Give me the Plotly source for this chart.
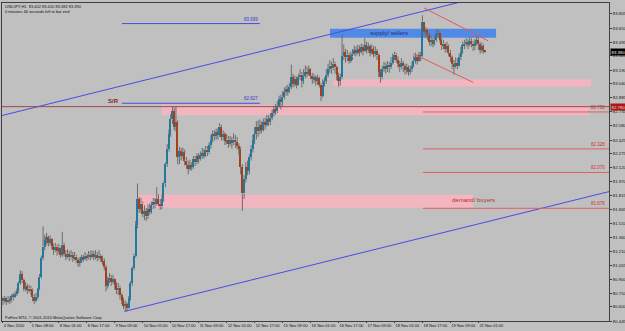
import plotly.graph_objects as go

# ---------------- data (USDJPY H1) ----------------
first_open = 80.70
closes = [
80.66, 80.70, 80.65, 80.68, 80.67, 80.72, 80.71, 80.74, 80.77, 80.86,
80.96, 80.89, 80.80, 80.83, 80.78, 80.80, 80.77, 80.71, 80.66, 80.71,
80.79, 80.93, 81.13, 81.26, 81.33, 81.36, 81.30, 81.34, 81.27, 81.22,
81.26, 81.21, 81.24, 81.17, 81.28, 81.18, 81.15, 81.18, 81.14, 81.17,
81.13, 81.15, 81.11, 81.08, 81.10, 81.14, 81.12, 81.16, 81.14, 81.17,
81.15, 81.18, 81.15, 81.17, 81.13, 81.16, 81.12, 81.10, 81.04, 80.83,
80.89, 80.92, 80.87, 80.90, 80.84, 80.78, 80.81, 80.73, 80.66, 80.61,
80.63, 80.59, 80.70, 80.86, 81.02, 81.16, 81.49, 81.78, 81.67, 81.73,
81.62, 81.65, 81.59, 81.67, 81.64, 81.71, 81.75, 81.73, 81.78, 81.73,
81.70, 81.78, 81.95, 82.16, 82.33, 82.49, 82.65, 82.74, 82.57, 82.62,
82.24, 82.30, 82.25, 82.29, 82.20, 82.15, 82.11, 82.15, 82.13, 82.22,
82.18, 82.25, 82.22, 82.26, 82.28, 82.25, 82.32, 82.29, 82.37, 82.43,
82.49, 82.47, 82.51, 82.48, 82.57, 82.46, 82.49, 82.41, 82.43, 82.38,
82.42, 82.39, 82.43, 82.40, 82.36, 82.33, 82.13, 81.84, 82.00, 82.13,
82.09, 82.24, 82.33, 82.43, 82.49, 82.57, 82.52, 82.59, 82.54, 82.62,
82.59, 82.65, 82.62, 82.67, 82.72, 82.76, 82.74, 82.80, 82.87, 82.84,
82.90, 82.95, 82.98, 82.96, 83.01, 83.11, 83.04, 83.09, 83.03, 83.11,
83.14, 83.07, 83.13, 83.17, 83.15, 83.20, 83.13, 83.09, 83.11, 83.07,
83.10, 83.03, 82.91, 83.03, 83.07, 83.14, 83.20, 83.24, 83.21, 83.26,
83.22, 83.14, 83.07, 83.11, 83.34, 83.39, 83.33, 83.36, 83.29, 83.34,
83.37, 83.41, 83.38, 83.42, 83.39, 83.44, 83.40, 83.46, 83.41, 83.45,
83.38, 83.42, 83.37, 83.40, 83.35, 83.17, 83.11, 83.20, 83.24, 83.20,
83.25, 83.22, 83.27, 83.33, 83.36, 83.30, 83.26, 83.22, 83.27, 83.23,
83.19, 83.22, 83.17, 83.20, 83.24, 83.29, 83.33, 83.29, 83.35, 83.34,
83.72, 83.61, 83.63, 83.57, 83.50, 83.52, 83.48, 83.52, 83.58, 83.60,
83.52, 83.46, 83.48, 83.42, 83.45, 83.38, 83.33, 83.26, 83.22, 83.27,
83.24, 83.33, 83.39, 83.46, 83.48, 83.50, 83.47, 83.51, 83.48, 83.45,
83.49, 83.52, 83.48, 83.41, 83.45, 83.402, 83.390]
highs = [
80.71, 80.72, 80.71, 80.72, 80.71, 80.74, 80.75, 80.77, 80.80, 80.88,
81.00, 80.99, 80.91, 80.87, 80.85, 80.84, 80.83, 80.80, 80.74, 80.75,
80.81, 80.96, 81.16, 81.48, 81.39, 81.41, 81.38, 81.38, 81.35, 81.29,
81.30, 81.28, 81.29, 81.25, 81.42, 81.30, 81.22, 81.23, 81.21, 81.22,
81.20, 81.20, 81.17, 81.14, 81.14, 81.17, 81.17, 81.20, 81.18, 81.21,
81.21, 81.22, 81.21, 81.22, 81.20, 81.22, 81.18, 81.16, 81.13, 81.06,
80.93, 80.97, 80.95, 80.95, 80.91, 80.87, 80.86, 80.83, 80.75, 80.70,
80.67, 80.65, 80.72, 80.88, 81.04, 81.18, 81.54, 81.95, 81.80, 81.79,
81.75, 81.71, 81.68, 81.72, 81.73, 81.75, 81.79, 81.79, 81.91, 81.83,
81.78, 81.83, 81.97, 82.18, 82.38, 82.54, 82.71, 82.79, 82.78, 82.79,
82.64, 82.35, 82.34, 82.34, 82.32, 82.24, 82.20, 82.21, 82.18, 82.25,
82.25, 82.28, 82.28, 82.30, 82.34, 82.33, 82.36, 82.36, 82.40, 82.48,
82.53, 82.53, 82.55, 82.55, 82.61, 82.59, 82.53, 82.51, 82.49, 82.47,
82.47, 82.46, 82.50, 82.48, 82.46, 82.39, 82.35, 82.16, 82.04, 82.18,
82.20, 82.27, 82.37, 82.48, 82.57, 82.63, 82.64, 82.65, 82.63, 82.66,
82.67, 82.70, 82.70, 82.72, 82.76, 82.80, 82.82, 82.85, 82.91, 82.92,
82.96, 83.00, 83.02, 83.03, 83.05, 83.25, 83.15, 83.13, 83.12, 83.15,
83.20, 83.17, 83.20, 83.24, 83.23, 83.24, 83.21, 83.16, 83.15, 83.13,
83.14, 83.12, 83.05, 83.09, 83.11, 83.20, 83.26, 83.30, 83.28, 83.32,
83.28, 83.24, 83.16, 83.15, 83.58, 83.47, 83.42, 83.41, 83.38, 83.39,
83.42, 83.46, 83.45, 83.47, 83.46, 83.48, 83.47, 83.54, 83.50, 83.49,
83.47, 83.47, 83.45, 83.45, 83.42, 83.37, 83.20, 83.24, 83.28, 83.27,
83.29, 83.28, 83.33, 83.37, 83.39, 83.38, 83.34, 83.29, 83.32, 83.29,
83.26, 83.26, 83.24, 83.24, 83.28, 83.35, 83.38, 83.36, 83.39, 83.39,
83.79, 83.69, 83.66, 83.64, 83.60, 83.57, 83.54, 83.57, 83.63, 83.64,
83.62, 83.54, 83.52, 83.49, 83.50, 83.47, 83.41, 83.35, 83.30, 83.33,
83.32, 83.37, 83.44, 83.50, 83.52, 83.54, 83.53, 83.55, 83.54, 83.51,
83.53, 83.57, 83.55, 83.50, 83.49, 83.47, 83.410]
lows = [
80.62, 80.64, 80.62, 80.64, 80.63, 80.65, 80.67, 80.70, 80.72, 80.75,
80.84, 80.86, 80.77, 80.77, 80.74, 80.76, 80.73, 80.66, 80.63, 80.65,
80.68, 80.78, 80.91, 81.11, 81.22, 81.28, 81.26, 81.27, 81.23, 81.17,
81.20, 81.16, 81.18, 81.14, 81.15, 81.15, 81.11, 81.13, 81.10, 81.12,
81.09, 81.11, 81.08, 81.04, 81.04, 81.08, 81.09, 81.11, 81.10, 81.12,
81.11, 81.13, 81.11, 81.12, 81.10, 81.11, 81.09, 81.06, 81.00, 80.77,
80.80, 80.86, 80.83, 80.85, 80.79, 80.74, 80.73, 80.68, 80.63, 80.58,
80.55, 80.55, 80.58, 80.67, 80.83, 81.00, 81.14, 81.46, 81.63, 81.63,
81.58, 81.55, 81.54, 81.56, 81.61, 81.62, 81.67, 81.68, 81.71, 81.70,
81.66, 81.67, 81.75, 81.91, 82.13, 82.30, 82.46, 82.60, 82.53, 82.52,
82.16, 82.16, 82.20, 82.22, 82.15, 82.11, 82.05, 82.09, 82.09, 82.11,
82.14, 82.16, 82.17, 82.20, 82.22, 82.22, 82.24, 82.25, 82.27, 82.33,
82.40, 82.42, 82.43, 82.43, 82.46, 82.42, 82.42, 82.37, 82.38, 82.34,
82.36, 82.33, 82.37, 82.34, 82.32, 82.26, 82.05, 81.65, 81.78, 81.96,
82.04, 82.05, 82.20, 82.29, 82.38, 82.43, 82.46, 82.49, 82.50, 82.52,
82.54, 82.57, 82.58, 82.59, 82.64, 82.68, 82.70, 82.72, 82.78, 82.76,
82.80, 82.87, 82.91, 82.91, 82.94, 82.98, 83.00, 83.01, 82.99, 83.02,
83.08, 83.00, 83.04, 83.10, 83.11, 83.13, 83.09, 83.04, 83.05, 83.02,
83.03, 83.00, 82.85, 82.89, 83.01, 83.04, 83.11, 83.16, 83.15, 83.19,
83.15, 83.08, 83.01, 83.02, 83.09, 83.30, 83.27, 83.29, 83.26, 83.27,
83.30, 83.35, 83.34, 83.36, 83.34, 83.37, 83.35, 83.39, 83.37, 83.38,
83.34, 83.36, 83.33, 83.34, 83.30, 83.11, 83.05, 83.09, 83.17, 83.15,
83.17, 83.16, 83.20, 83.25, 83.30, 83.27, 83.22, 83.17, 83.20, 83.17,
83.14, 83.15, 83.13, 83.14, 83.17, 83.22, 83.26, 83.25, 83.28, 83.29,
83.33, 83.57, 83.54, 83.52, 83.46, 83.45, 83.44, 83.46, 83.50, 83.54,
83.49, 83.41, 83.42, 83.38, 83.39, 83.34, 83.28, 83.20, 83.14, 83.21,
83.20, 83.23, 83.30, 83.37, 83.42, 83.45, 83.42, 83.45, 83.44, 83.40,
83.41, 83.46, 83.41, 83.37, 83.38, 83.37, 83.382]

time_labels = ["4 Nov 2010", "5 Nov 08:00", "8 Nov 01:00", "8 Nov 17:00", "9 Nov 09:00",
               "10 Nov 01:00", "10 Nov 17:00", "11 Nov 09:00", "12 Nov 01:00", "12 Nov 17:00",
               "15 Nov 09:00", "16 Nov 01:00", "16 Nov 17:00", "17 Nov 09:00", "18 Nov 01:00",
               "18 Nov 17:00", "19 Nov 09:00", "22 Nov 01:00"]
bars_per_label = 16
price_ticks = [83.805, 83.650, 83.495, 83.345, 83.190, 83.040, 82.885, 82.735, 82.580,
               82.425, 82.275, 82.120, 81.970, 81.815, 81.665, 81.510, 81.360, 81.210,
               81.055, 80.900, 80.750, 80.600, 80.445]

# drawn objects (anchor points: bar index, price)
upper_channel = ([-0.5, 280.0], [82.693, 84.021])
lower_channel = ([69.5, 347.0], [80.550, 81.862])
wedge_top = ([240.9, 277.5], [83.870, 83.511])
wedge_bottom = ([234.6, 269.0], [83.370, 83.055])
blue_levels = [(83.699, 68.1, 147.0, "83.699"), (82.827, 68.1, 147.0, "82.827")]
red_levels = [(82.732, "82.732"), (82.328, "82.328"), (82.070, "82.070"), (81.678, "81.678")]
red_level_start = 240.3
sr_price = 82.790
last_price = 83.390
zones = [  # x0, x1, y0, y1, fill
    (187.1, 282.1, 83.544, 83.642, "#4f8ae6"),
    (188.9, 336.5, 83.011, 83.087, "#f3b6c0"),
    (91.0, 335.3, 82.696, 82.804, "#f3b6c0"),
    (76.7, 269.0, 81.684, 81.826, "#f3b6c0"),
]

# ---------------- build ----------------
n = min(len(closes), len(highs), len(lows))
closes, highs, lows = closes[:n], highs[:n], lows[:n]
opens = [first_open] + closes[:n - 1]
idx = list(range(n))
hi = [max(h, o, c) for h, o, c in zip(highs, opens, closes)]
lo = [min(l, o, c) for l, o, c in zip(lows, opens, closes)]

body_base, body_h, body_col = [], [], []
wx, wy = [], []
for i in idx:
    o, c = opens[i], closes[i]
    top, bot = max(o, c), min(o, c)
    body_base.append(bot)
    body_h.append(max(top - bot, 0.006))
    body_col.append("#23789e" if c >= o else "#a3411f")
    wx += [i, i, None, i, i, None]
    wy += [hi[i], top, None, bot, lo[i], None]

BG = "#c0c0c0"
FONT = "Liberation Sans, Arial, sans-serif"

fig = go.Figure()
fig.add_trace(go.Scatter(x=wx, y=wy, mode="lines", line=dict(color="#6c6c6c", width=1),
                         hoverinfo="skip"))
fig.add_trace(go.Bar(x=idx, y=body_h, base=body_base, width=0.85,
                     marker=dict(color=body_col, line=dict(width=0)), hoverinfo="skip"))

for (xs, ys), col in [(upper_channel, "#4a4ae8"), (lower_channel, "#4a4ae8"),
                      (wedge_top, "#e05a5a"), (wedge_bottom, "#e05a5a")]:
    fig.add_trace(go.Scatter(x=xs, y=ys, mode="lines", line=dict(color=col, width=1),
                             hoverinfo="skip"))

shapes = []
for x0, x1, y0, y1, col in zones:
    shapes.append(dict(type="rect", xref="x", yref="y", x0=x0, x1=x1, y0=y0, y1=y1,
                       fillcolor=col, line=dict(width=0), layer="below"))
shapes.append(dict(type="line", xref="paper", yref="y", x0=0, x1=1, y0=sr_price, y1=sr_price,
                   line=dict(color="#a04848", width=1)))
for p, x0, x1, _ in blue_levels:
    shapes.append(dict(type="line", xref="x", yref="y", x0=x0, x1=x1, y0=p, y1=p,
                       line=dict(color="#4a4ae8", width=1)))
for p, _ in red_levels:
    shapes.append(dict(type="line", xref="x", yref="y", x0=red_level_start, x1=346.7, y0=p, y1=p,
                       line=dict(color="#e06060", width=1)))

ann = []
ann.append(dict(x=220.9, y=83.60, xref="x", yref="y", text="supply/ sellers", showarrow=False,
                font=dict(family=FONT, size=6, color="#1c2f7a")))
ann.append(dict(x=269.2, y=81.772, xref="x", yref="y", text="demand/ buyers", showarrow=False,
                font=dict(family=FONT, size=6, color="#b03030")))
ann.append(dict(x=63, y=82.848, xref="x", yref="y", text="<b>S/R</b>", showarrow=False,
                font=dict(family=FONT, size=6, color="#8b1a1a")))
for p, x0, x1, t in blue_levels:
    ann.append(dict(x=x1, y=p, xref="x", yref="y", text=t, showarrow=False, xanchor="right",
                    yanchor="bottom", font=dict(family=FONT, size=4.5, color="#3a3ad0")))
for p, t in red_levels:
    ann.append(dict(x=345.6, y=p, xref="x", yref="y", text=t, showarrow=False, xanchor="right",
                    yanchor="bottom", font=dict(family=FONT, size=4.5, color="#d03030")))
ann.append(dict(x=1, y=last_price, xref="paper", yref="y", text=f"{last_price:.3f}", showarrow=False,
                xanchor="left", xshift=1, bgcolor="#000000", borderpad=0.5,
                font=dict(family=FONT, size=4.3, color="#ffffff")))
ann.append(dict(x=1, y=sr_price, xref="paper", yref="y", text=f"{sr_price:.3f}", showarrow=False,
                xanchor="left", xshift=1, bgcolor="#a81818", borderpad=0.5,
                font=dict(family=FONT, size=4.3, color="#ffd8d8")))
ann.append(dict(x=0.002, y=1.003, xref="paper", yref="paper", xanchor="left", yanchor="top",
                text="USDJPY,H1  83.402 83.410 83.382 83.390", showarrow=False,
                font=dict(family=FONT, size=4, color="#101010")))
ann.append(dict(x=0.002, y=0.987, xref="paper", yref="paper", xanchor="left", yanchor="top",
                text="0 minutes 46 seconds left to bar end", showarrow=False,
                font=dict(family=FONT, size=4, color="#101010")))
ann.append(dict(x=0.002, y=0.0125, xref="paper", yref="paper", xanchor="left", yanchor="middle",
                text="PoFinx MT4, © 2001-2010 MetaQuotes Software Corp.", showarrow=False,
                font=dict(family=FONT, size=4, color="#101010")))

fig.update_layout(
    width=625, height=331, margin=dict(l=2, r=16, t=3, b=10, autoexpand=False),
    paper_bgcolor=BG, plot_bgcolor=BG, showlegend=False, bargap=0,
    shapes=shapes, annotations=ann,
    xaxis=dict(range=[-0.5, 346.7], tickmode="array",
               tickvals=[k * bars_per_label for k in range(len(time_labels))],
               ticktext=time_labels, ticklabelposition="outside right", tickangle=0,
               ticks="outside", ticklen=1, tickcolor="#404040",
               tickfont=dict(family=FONT, size=4, color="#101010"),
               showgrid=False, zeroline=False, showline=True, linecolor="#404040",
               linewidth=1, mirror=True, fixedrange=True),
    yaxis=dict(range=[80.445, 83.924], side="right", tickmode="array",
               tickvals=price_ticks, ticktext=[f"{v:.3f}" for v in price_ticks],
               ticks="outside", ticklen=2, tickcolor="#404040",
               tickfont=dict(family=FONT, size=4.3, color="#101010"),
               showgrid=False, zeroline=False, showline=True, linecolor="#404040",
               linewidth=1, mirror=True, fixedrange=True),
)

fig.write_html("out.html")
